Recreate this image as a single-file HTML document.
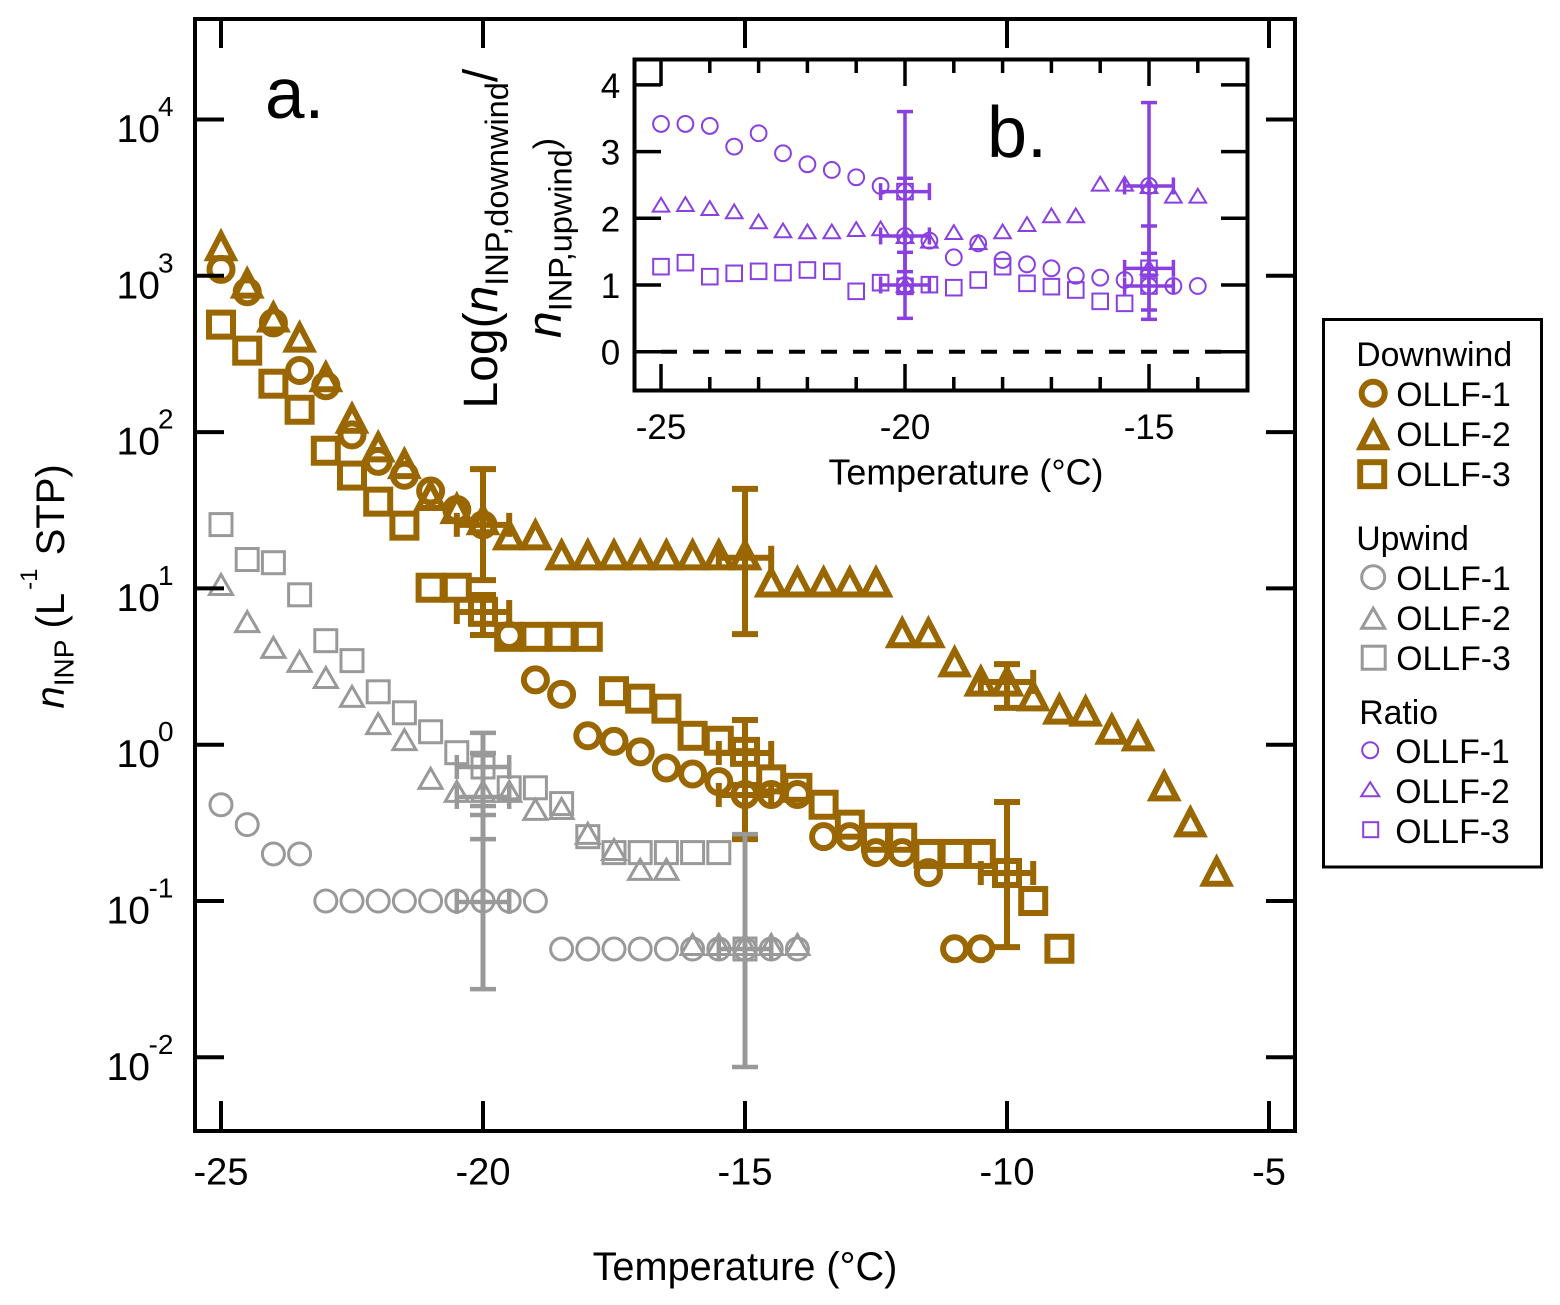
<!DOCTYPE html>
<html lang="en">
<head>
<meta charset="utf-8">
<title>INP concentrations vs temperature</title>
<style>
html,body{margin:0;padding:0;background:#fff;}
svg{display:block;}
text{font-family:"Liberation Sans",sans-serif;fill:#000;}
</style>
</head>
<body>
<svg id="fig" xmlns="http://www.w3.org/2000/svg" width="1560" height="1305" viewBox="0 0 1560 1305">
  <rect x="195" y="19" width="1100" height="1112" fill="none" stroke="#000" stroke-width="4"/>
  <g id="mainMarks"></g>
  <g id="mainAxes"></g>
  <text x="265" y="118" font-size="71">a.</text>
  <text x="745" y="1280" font-size="39.7" text-anchor="middle">Temperature (°C)</text>
  <text transform="translate(64,708.5) rotate(-90)" font-size="40"><tspan font-style="italic">n</tspan><tspan font-size="28" dy="9.5">INP</tspan><tspan dy="-9.5"> (L</tspan><tspan font-size="24" dx="3" dy="-27">-1</tspan><tspan dx="2" dy="27"> STP)</tspan></text>

  <rect x="634.5" y="59.5" width="613" height="331" fill="none" stroke="#000" stroke-width="4"/>
  <g id="insetMarks"></g>
  <g id="insetAxes"></g>
  <text x="987" y="157" font-size="72">b.</text>
  <text x="966" y="484.5" font-size="35.8" text-anchor="middle">Temperature (°C)</text>
  <text transform="translate(497,408.5) rotate(-90)" font-size="48">Log(<tspan font-style="italic">n</tspan><tspan font-size="32.5" dy="11">INP,downwind</tspan><tspan dy="-11">/</tspan></text>
  <text transform="translate(560.5,338) rotate(-90)" font-size="48"><tspan font-style="italic">n</tspan><tspan font-size="32.5" dy="11">INP,upwind</tspan><tspan font-size="34" dy="-14">)</tspan></text>

  <g>
    <rect x="1323.5" y="319.5" width="218" height="547.5" fill="#fff" stroke="#000" stroke-width="3"/>
    <g font-size="33.8" transform="translate(-0.8,-0.8)">
      <text x="1357" y="367">Downwind</text>
      <circle cx="1374" cy="394" r="11.5" fill="none" stroke="#996600" stroke-width="6"/>
      <text x="1397" y="407">OLLF-1</text>
      <polygon points="1374,424 1386.5,448 1361.5,448" fill="none" stroke="#996600" stroke-width="6"/>
      <text x="1397" y="447">OLLF-2</text>
      <rect x="1361" y="463" width="24" height="24" fill="none" stroke="#996600" stroke-width="6"/>
      <text x="1397" y="487">OLLF-3</text>

      <text x="1357" y="551">Upwind</text>
      <circle cx="1374" cy="578" r="11.5" fill="none" stroke="#999" stroke-width="3"/>
      <text x="1397" y="591">OLLF-1</text>
      <polygon points="1374,609 1385.5,629 1362.5,629" fill="none" stroke="#999" stroke-width="3"/>
      <text x="1397" y="631">OLLF-2</text>
      <rect x="1363" y="647" width="23" height="23" fill="none" stroke="#999" stroke-width="3"/>
      <text x="1397" y="671">OLLF-3</text>

      <text x="1360" y="725">Ratio</text>
      <circle cx="1371" cy="751" r="8" fill="none" stroke="#8A3FE0" stroke-width="2"/>
      <text x="1396" y="764">OLLF-1</text>
      <polygon points="1371,783 1380,797 1362,797" fill="none" stroke="#8A3FE0" stroke-width="2"/>
      <text x="1396" y="804">OLLF-2</text>
      <rect x="1364" y="823" width="15" height="15" fill="none" stroke="#8A3FE0" stroke-width="2"/>
      <text x="1396" y="844">OLLF-3</text>
    </g>
  </g>
</svg>
<script>
// ---------- Main panel data: temperature (deg C) and INP concentration (per L STP) ----------
const downwind1Temps = [-25,-24.5,-24,-23.5,-23,-22.5,-22,-21.5,-21,-20.5,-20,-19.5,-19,-18.5,-18,-17.5,-17,-16.5,-16,-15.5,-15,-14.5,-14,-13.5,-13,-12.5,-12,-11.5,-11,-10.5];
const downwind1Values = [1100,790,500,248,198,96,65,53,42,32,25.5,5,2.6,2.1,1.14,1.05,0.9,0.71,0.65,0.58,0.48,0.48,0.48,0.258,0.258,0.204,0.204,0.152,0.0495,0.0495];
const downwind2Temps = [-25,-24.5,-24,-23.5,-23,-22.5,-22,-21.5,-21,-20.5,-20,-19.5,-19,-18.5,-18,-17.5,-17,-16.5,-16,-15.5,-15,-14.5,-14,-13.5,-13,-12.5,-12,-11.5,-11,-10.5,-10,-9.5,-9,-8.5,-8,-7.5,-7,-6.5,-6];
const downwind2Values = [1585,915,555,413,230,125,82,64,40,33,28,22.4,22.4,16.7,16.7,16.7,16.7,16.7,16.7,16.7,16.7,11.2,11.2,11.2,11.2,11.2,5.3,5.3,3.45,2.6,2.6,2.09,1.72,1.67,1.28,1.16,0.555,0.327,0.158];
const downwind3Temps = [-25,-24.5,-24,-23.5,-23,-22.5,-22,-21.5,-21,-20.5,-20,-19.5,-19,-18.5,-18,-17.5,-17,-16.5,-16,-15.5,-15,-14.5,-14,-13.5,-13,-12.5,-12,-11.5,-11,-10.5,-10,-9.5,-9];
const downwind3Values = [487,332,204,139,76,52.7,35.9,25.2,10.1,10.1,7.08,4.9,4.9,4.9,4.9,2.2,1.97,1.7,1.14,1.06,0.9,0.6,0.53,0.413,0.308,0.254,0.254,0.2,0.2,0.2,0.151,0.1,0.0495];
const upwind1Temps = [-25,-24.5,-24,-23.5,-23,-22.5,-22,-21.5,-21,-20.5,-20,-19.5,-19,-18.5,-18,-17.5,-17,-16.5,-16,-15.5,-15,-14.5,-14];
const upwind1Values = [0.413,0.308,0.2,0.2,0.1,0.1,0.1,0.1,0.1,0.1,0.1,0.1,0.1,0.0493,0.0493,0.0493,0.0493,0.0493,0.0493,0.0493,0.0493,0.0493,0.0493];
const upwind2Temps = [-25,-24.5,-24,-23.5,-23,-22.5,-22,-21.5,-21,-20.5,-20,-19.5,-19,-18.5,-18,-17.5,-17,-16.5,-16,-15.5,-15,-14.5,-14];
const upwind2Values = [10.7,6.2,4.24,3.45,2.72,2.06,1.38,1.09,0.616,0.508,0.508,0.508,0.39,0.395,0.274,0.216,0.161,0.161,0.0533,0.0533,0.0533,0.0533,0.0533];
const upwind3Temps = [-25,-24.5,-24,-23.5,-23,-22.5,-22,-21.5,-21,-20.5,-20,-19.5,-19,-18.5,-18,-17.5,-17,-16.5,-16,-15.5,-15];
const upwind3Values = [25.6,15.3,14.6,9.1,4.63,3.45,2.18,1.6,1.21,0.889,0.72,0.53,0.53,0.42,0.258,0.204,0.204,0.204,0.204,0.204,0.0493];

// Error bars: temperature, centre, lower, upper
const downwindErrorTemps = [-20,-20,-15,-15,-15,-10,-10];
const downwindErrorCentres = [25.5,7.06,15.7,0.885,0.477,0.151,2.52];
const downwindErrorLows = [11.3,5.03,5.1,0.552,0.249,0.0507,1.72];
const downwindErrorHighs = [58,9.07,43.3,1.44,0.91,0.43,3.28];
const upwindErrorTemps = [-20,-20,-20,-15];
const upwindErrorCentres = [0.72,0.463,0.0986,0.0493];
const upwindErrorLows = [0.405,0.249,0.0273,0.00867];
const upwindErrorHighs = [1.19,0.885,0.355,0.268];
const temperatureErrorHalfWidth = 0.5;

// ---------- Inset data: log ratio of downwind to upwind ----------
const ratio1Temps = [-25,-24.5,-24,-23.5,-23,-22.5,-22,-21.5,-21,-20.5,-20,-20,-20,-19.5,-19,-18.5,-18,-17.5,-17,-16.5,-16,-15.5,-15,-15,-14.5,-14];
const ratio1Values = [3.415,3.415,3.385,3.075,3.275,2.975,2.81,2.725,2.615,2.485,2.4,1.735,1.0,1.665,1.415,1.625,1.375,1.31,1.25,1.14,1.11,1.075,2.485,0.985,0.985,0.985];
const ratio2Temps = [-25,-24.5,-24,-23.5,-23,-22.5,-22,-21.5,-21,-20.5,-20,-20,-19.5,-19,-18.5,-18,-17.5,-17,-16.5,-16,-15.5,-15,-15,-14.5,-14];
const ratio2Values = [2.205,2.215,2.155,2.105,1.955,1.82,1.805,1.805,1.84,1.85,1.735,1.0,1.665,1.795,1.645,1.805,1.915,2.045,2.045,2.52,2.52,2.485,1.265,2.34,2.34];
const ratio3Temps = [-25,-24.5,-24,-23.5,-23,-22.5,-22,-21.5,-21,-20.5,-20,-20,-19.5,-19,-18.5,-18,-17.5,-17,-16.5,-16,-15.5,-15,-15];
const ratio3Values = [1.275,1.335,1.125,1.175,1.205,1.185,1.225,1.205,0.905,1.035,2.4,0.98,1.005,0.96,1.075,1.275,1.025,0.975,0.925,0.755,0.725,1.25,0.985];
const ratioErrorTemps = [-20,-20,-20,-15,-15,-15];
const ratioErrorCentres = [2.4,1.735,1.0,2.485,1.25,0.985];
const ratioErrorLows = [1.2,0.875,0.5,1.235,0.625,0.485];
const ratioErrorHighs = [3.6,2.6,1.49,3.735,1.885,1.475];

// ---------- Tick labels ----------
const mainXTicks = [-25,-20,-15,-10,-5];
const mainYTickExponents = [4,3,2,1,0,-1,-2];
const insetXMajorTicks = [-25,-20,-15];
const insetXMinorTicks = [-24,-23,-22,-21,-19,-18,-17,-16,-14];
const insetYTicks = [4,3,2,1,0];

// ---------- Axis functions ----------
function mainX(t){ return 221 + (t + 25) * 52.4; }
function mainY(v){ return 744.7 - Math.log10(v) * 156.3; }
function insetX(t){ return 661 + (t + 25) * 48.8; }
function insetY(v){ return 351.7 - v * 66.7; }

const NS = 'http://www.w3.org/2000/svg';
const BROWN = '#996600', GRAY = '#999999', PURPLE = '#8A3FE0';
const mainMarks = document.getElementById('mainMarks');
const mainAxes = document.getElementById('mainAxes');
const insetMarks = document.getElementById('insetMarks');
const insetAxes = document.getElementById('insetAxes');

function make(tag, name, parent, attrs){
  const el = document.createElementNS(NS, tag);
  
  
  for (const k in attrs) el.setAttribute(k, attrs[k]);
  parent.appendChild(el);
  return el;
}
function line(name, parent, x1, y1, x2, y2, color, width){
  return make('line', name, parent, {x1:x1, y1:y1, x2:x2, y2:y2, stroke:color, 'stroke-width':width});
}
function label(name, parent, x, y, size, str, anchor){
  const t = make('text', name, parent, {x:x, y:y, 'font-size':size, 'text-anchor':anchor || 'start'});
  t.textContent = str;
  return t;
}
function drawCircles(name, parent, temps, vals, fx, fy, style){
  temps.forEach(function(t, i){
    make('circle', name, parent, {cx:fx(t), cy:fy(vals[i]), r:style.r, fill:'none', stroke:style.color, 'stroke-width':style.w});
  });
}
function drawSquares(name, parent, temps, vals, fx, fy, style){
  temps.forEach(function(t, i){
    make('rect', name, parent, {x:fx(t)-style.h, y:fy(vals[i])-style.h, width:2*style.h, height:2*style.h, fill:'none', stroke:style.color, 'stroke-width':style.w});
  });
}
function drawTriangles(name, parent, temps, vals, fx, fy, style){
  temps.forEach(function(t, i){
    const x = fx(t), y = fy(vals[i]);
    const pts = [[x, y+style.top], [x+style.hw, y+style.bottom], [x-style.hw, y+style.bottom]].map(function(p){ return p.join(','); }).join(' ');
    make('polygon', name, parent, {points:pts, fill:'none', stroke:style.color, 'stroke-width':style.w});
  });
}
function drawErrors(name, parent, temps, centres, lows, highs, fx, fy, style){
  temps.forEach(function(t, i){
    const x = fx(t), y = fy(centres[i]);
    const xl = fx(t - temperatureErrorHalfWidth), xr = fx(t + temperatureErrorHalfWidth);
    const yl = fy(lows[i]), yh = fy(highs[i]);
    line(name, parent, x, yl, x, yh, style.color, style.w);
    line(name, parent, x-style.cap, yl, x+style.cap, yl, style.color, style.capW);
    line(name, parent, x-style.cap, yh, x+style.cap, yh, style.color, style.capW);
    line(name, parent, xl, y, xr, y, style.color, style.capW);
    line(name, parent, xl, y-style.sideCap, xl, y+style.sideCap, style.color, style.capW);
    line(name, parent, xr, y-style.sideCap, xr, y+style.sideCap, style.color, style.capW);
  });
}

// ---------- Main panel ----------
const brownCircle = {r:11.5, color:BROWN, w:6};
const brownSquare = {h:12, color:BROWN, w:6};
const brownTriangle = {top:-10.25, bottom:13.75, hw:12.5, color:BROWN, w:6};
const grayCircle = {r:11, color:GRAY, w:3};
const graySquare = {h:11, color:GRAY, w:3};
const grayTriangle = {top:-9.25, bottom:10.75, hw:11.5, color:GRAY, w:3};

drawErrors('downwind-error-bar', mainMarks, downwindErrorTemps, downwindErrorCentres, downwindErrorLows, downwindErrorHighs, mainX, mainY, {color:BROWN, w:6, capW:6, cap:13, sideCap:12});
drawCircles('downwind-ollf-1-point', mainMarks, downwind1Temps, downwind1Values, mainX, mainY, brownCircle);
drawTriangles('downwind-ollf-2-point', mainMarks, downwind2Temps, downwind2Values, mainX, mainY, brownTriangle);
drawSquares('downwind-ollf-3-point', mainMarks, downwind3Temps, downwind3Values, mainX, mainY, brownSquare);
drawErrors('upwind-error-bar', mainMarks, upwindErrorTemps, upwindErrorCentres, upwindErrorLows, upwindErrorHighs, mainX, mainY, {color:GRAY, w:5, capW:4.5, cap:13, sideCap:12});
drawCircles('upwind-ollf-1-point', mainMarks, upwind1Temps, upwind1Values, mainX, mainY, grayCircle);
drawTriangles('upwind-ollf-2-point', mainMarks, upwind2Temps, upwind2Values, mainX, mainY, grayTriangle);
drawSquares('upwind-ollf-3-point', mainMarks, upwind3Temps, upwind3Values, mainX, mainY, graySquare);

mainXTicks.forEach(function(t){
  const x = mainX(t);
  line('x-axis-tick', mainAxes, x, 1131, x, 1101, '#000', 4);
  line('x-axis-top-tick', mainAxes, x, 19, x, 48, '#000', 4);
  label('x-axis-tick-label', mainAxes, x, 1184.5, 38, String(t), 'middle');
});
mainYTickExponents.forEach(function(e){
  const y = mainY(Math.pow(10, e));
  line('y-axis-tick', mainAxes, 195, y, 224, y, '#000', 4);
  line('y-axis-right-tick', mainAxes, 1295, y, 1266, y, '#000', 4);
  const baseX = e < 0 ? 106.5 : 116.5;
  const expX = e < 0 ? 148.5 : 158;
  label('y-axis-tick-label', mainAxes, baseX, y + 22.5, 39, '10');
  label('y-axis-tick-exponent', mainAxes, expX, y - 3.5, 28, String(e));
});

// ---------- Inset panel ----------
const purpleCircle = {r:7.9, color:PURPLE, w:2};
const purpleSquare = {h:7.8, color:PURPLE, w:2};
const purpleTriangle = {top:-6.8, bottom:7, hw:8.3, color:PURPLE, w:2};

line('zero-reference-line', insetMarks, insetX(-25), insetY(0), insetX(-13.5), insetY(0), '#000', 4).setAttribute('stroke-dasharray', '16 16');
drawCircles('ratio-ollf-1-point', insetMarks, ratio1Temps, ratio1Values, insetX, insetY, purpleCircle);
drawTriangles('ratio-ollf-2-point', insetMarks, ratio2Temps, ratio2Values, insetX, insetY, purpleTriangle);
drawSquares('ratio-ollf-3-point', insetMarks, ratio3Temps, ratio3Values, insetX, insetY, purpleSquare);
drawErrors('ratio-error-bar', insetMarks, ratioErrorTemps, ratioErrorCentres, ratioErrorLows, ratioErrorHighs, insetX, insetY, {color:PURPLE, w:3.5, capW:3.5, cap:8, sideCap:8.5});

insetXMajorTicks.forEach(function(t){
  const x = insetX(t);
  line('inset-x-axis-tick', insetAxes, x, 390.5, x, 364, '#000', 3.5);
  line('inset-x-axis-top-tick', insetAxes, x, 59.5, x, 86, '#000', 3.5);
  label('inset-x-axis-tick-label', insetAxes, x, 439, 35, String(t), 'middle');
});
insetXMinorTicks.forEach(function(t){
  const x = insetX(t);
  line('inset-x-axis-minor-tick', insetAxes, x, 390.5, x, 377, '#000', 3.5);
  line('inset-x-axis-top-minor-tick', insetAxes, x, 59.5, x, 73, '#000', 3.5);
});
insetYTicks.forEach(function(v){
  const y = insetY(v);
  line('inset-y-axis-tick', insetAxes, 634.5, y, 661, y, '#000', 3.5);
  line('inset-y-axis-right-tick', insetAxes, 1247.5, y, 1221, y, '#000', 3.5);
  label('inset-y-axis-tick-label', insetAxes, 610.5, y + 13, 35, String(v), 'middle');
});
</script>
</body>
</html>
